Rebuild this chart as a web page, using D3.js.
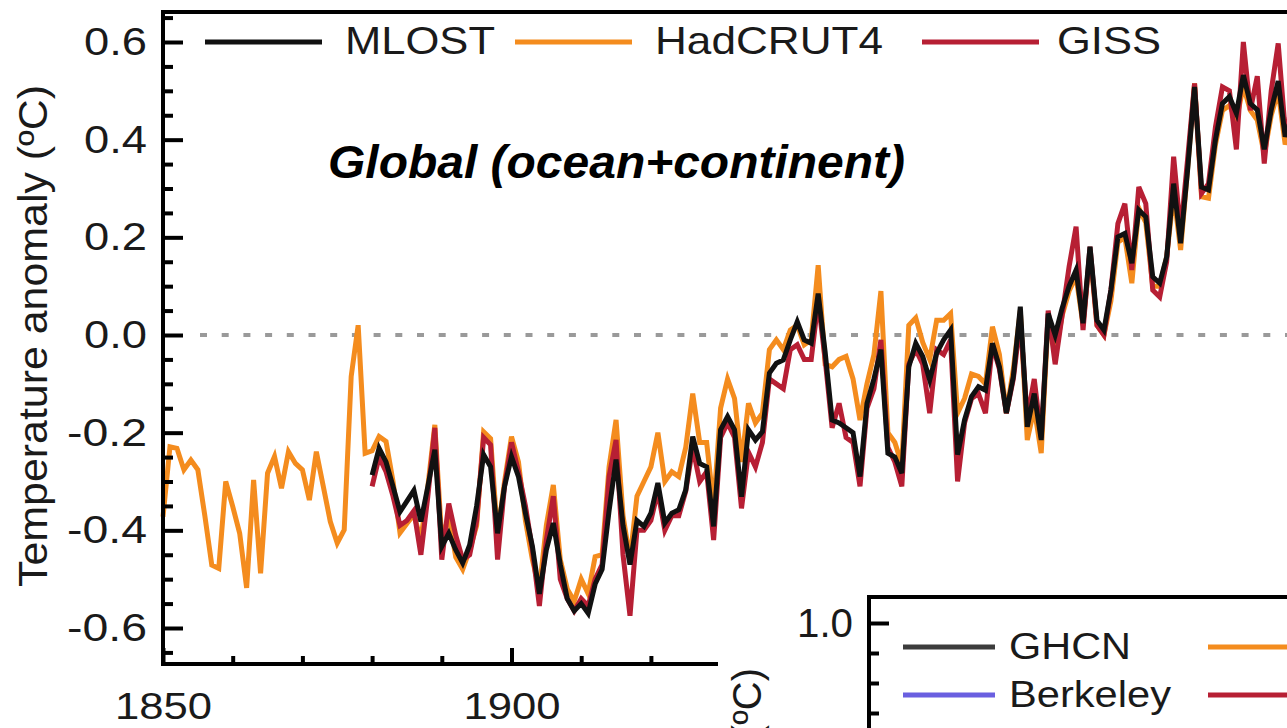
<!DOCTYPE html>
<html>
<head>
<meta charset="utf-8">
<script src="https://cdnjs.cloudflare.com/ajax/libs/d3/7.8.5/d3.min.js"></script>
<style>
  body { margin: 0; background: #fff; }
  svg { display: block; font-family: 'Liberation Sans', Arial, sans-serif; }
</style>
</head>
<body>
<script>
// annual anomalies (ºC)
const hadStart = 1850
const hadcrut4 = [
  -0.372, -0.229, -0.232, -0.276, -0.256, -0.276, -0.37, -0.471, -0.478, -0.30,
  -0.351, -0.406, -0.518, -0.297, -0.488, -0.283, -0.249, -0.314, -0.239, -0.263,
  -0.276, -0.338, -0.239, -0.31, -0.382, -0.426, -0.399, -0.085, 0.02, -0.242,
  -0.237, -0.208, -0.218, -0.30, -0.405, -0.386, -0.368, -0.42, -0.31, -0.184,
  -0.42, -0.37, -0.455, -0.48, -0.44, -0.39, -0.198, -0.212, -0.41, -0.30,
  -0.208, -0.26, -0.38, -0.46, -0.52, -0.39, -0.307, -0.46, -0.52, -0.545,
  -0.50, -0.53, -0.454, -0.45, -0.27, -0.174, -0.37, -0.46, -0.33, -0.30,
  -0.27, -0.20, -0.30, -0.28, -0.29, -0.23, -0.12, -0.22, -0.22, -0.35,
  -0.15, -0.09, -0.13, -0.26, -0.14, -0.18, -0.16, -0.03, -0.01, -0.03,
  0.01, 0.02, -0.02, -0.01, 0.143, -0.06, -0.065, -0.05, -0.044, -0.09,
  -0.174, -0.10, -0.04, 0.09, -0.20, -0.22, -0.265, 0.02, 0.035, -0.015,
  -0.05, 0.03, 0.03, 0.044, -0.16, -0.13, -0.08, -0.085, -0.10, 0.017,
  -0.04, -0.16, -0.07, 0.05, -0.215, -0.15, -0.242, 0.035, -0.04, 0.04,
  0.09, 0.12, 0.02, 0.17, 0.02, 0.0, 0.07, 0.19, 0.20, 0.106,
  0.26, 0.23, 0.10, 0.10, 0.16, 0.29, 0.174, 0.34, 0.515, 0.283,
  0.28, 0.39, 0.46, 0.47, 0.44, 0.51, 0.46, 0.44, 0.37, 0.45,
  0.50, 0.39, 0.43
]

const mlostStart = 1880
const mlost = [
  -0.287, -0.232, -0.26, -0.31, -0.362, -0.34, -0.318, -0.382, -0.31, -0.235,
  -0.433, -0.406, -0.44, -0.467, -0.43, -0.35, -0.245, -0.27, -0.406, -0.31,
  -0.249, -0.29, -0.365, -0.433, -0.53, -0.44, -0.385, -0.47, -0.54, -0.565,
  -0.55, -0.57, -0.51, -0.48, -0.36, -0.255, -0.39, -0.47, -0.38, -0.392,
  -0.365, -0.303, -0.385, -0.365, -0.358, -0.317, -0.208, -0.263, -0.27, -0.392,
  -0.194, -0.167, -0.194, -0.331, -0.194, -0.215, -0.198, -0.078, -0.058, -0.051,
  -0.01, 0.027, -0.01, -0.017, 0.085, -0.035, -0.174, -0.18, -0.19, -0.20,
  -0.29, -0.14, -0.09, -0.03, -0.242, -0.25, -0.283, -0.065, -0.017, -0.044,
  -0.092, -0.037, -0.01, 0.01, -0.245, -0.174, -0.126, -0.106, -0.113, -0.017,
  -0.065, -0.16, -0.085, 0.058, -0.188, -0.12, -0.215, 0.044, 0.0, 0.055,
  0.10, 0.133, 0.024, 0.181, 0.03, 0.01, 0.092, 0.201, 0.208, 0.147,
  0.256, 0.242, 0.119, 0.106, 0.16, 0.31, 0.188, 0.338, 0.508, 0.303,
  0.297, 0.40, 0.474, 0.488, 0.454, 0.532, 0.474, 0.461, 0.38, 0.461,
  0.52, 0.406, 0.45
]

const gissStart = 1880
const giss = [
  -0.31, -0.25, -0.28, -0.33, -0.39, -0.38, -0.36, -0.45, -0.33, -0.19,
  -0.46, -0.345, -0.41, -0.46, -0.45, -0.38, -0.21, -0.225, -0.46, -0.31,
  -0.22, -0.28, -0.35, -0.44, -0.555, -0.42, -0.33, -0.50, -0.54, -0.565,
  -0.54, -0.555, -0.50, -0.47, -0.29, -0.215, -0.45, -0.575, -0.40, -0.40,
  -0.38, -0.32, -0.40, -0.37, -0.37, -0.32, -0.23, -0.30, -0.28, -0.42,
  -0.21, -0.18, -0.21, -0.355, -0.24, -0.27, -0.22, -0.09, -0.10, -0.11,
  -0.03, -0.02, -0.05, -0.05, 0.07, -0.05, -0.19, -0.14, -0.21, -0.22,
  -0.31, -0.15, -0.11, -0.01, -0.23, -0.26, -0.31, -0.06, -0.03, -0.06,
  -0.16, -0.03, -0.04, -0.01, -0.30, -0.18, -0.13, -0.12, -0.16, -0.02,
  -0.07, -0.16, -0.09, 0.03, -0.17, -0.09, -0.21, 0.05, -0.06, 0.04,
  0.14, 0.222, 0.01, 0.181, 0.02, 0.0, 0.092, 0.228, 0.269, 0.133,
  0.303, 0.269, 0.092, 0.078, 0.15, 0.365, 0.21, 0.36, 0.515, 0.29,
  0.31, 0.426, 0.508, 0.50, 0.38, 0.60, 0.46, 0.53, 0.351, 0.50,
  0.597, 0.42, 0.46
]

// tick values (the rest of the x axis sits under the inset)
const yTicks = [-0.6, -0.4, -0.2, 0.0, 0.2, 0.4, 0.6]
const yMinor = [-0.65, -0.55, -0.5, -0.45, -0.35, -0.3, -0.25, -0.15, -0.1, -0.05,
  0.05, 0.1, 0.15, 0.25, 0.3, 0.35, 0.45, 0.5, 0.55, 0.65]
const xTicks = [1850, 1900]
const xMinor = [1860, 1870, 1880, 1890, 1910, 1920]

// legend names
const mainNames = ['MLOST', 'HadCRUT4', 'GISS']
const insetNames = ['GHCN', 'Berkeley']
const insetTicks = [1.0]
const insetMinor = [0.7, 0.8, 0.9]

const colBlack = '#111'
const colOrange = '#f48c1e'
const colRed = '#b71f34'
const colGrey = '#3c3c3c'
const colBlue = '#6a5fe0'

const w = 1287
const h = 728
const plotLeft = 163
const plotTop = 12
const plotBottom = 664

const svg = d3.select('body')
    .append('svg')
    .attr('width', w)
    .attr('height', h)

// scales
const x = d3.scaleLinear()
    .domain([1850, 2012])
    .range([plotLeft, plotLeft + 162 * 6.97])

const y = d3.scaleLinear()
    .domain([-0.6, 0.6])
    .range([628, 42])

const fmt1 = d => d.toFixed(1)

// zero line
svg.append('line')
    .attr('x1', 200)
    .attr('x2', w)
    .attr('y1', y(0))
    .attr('y2', y(0))
    .style('stroke', '#9a9a9a')
    .style('stroke-width', 4)
    .style('stroke-dasharray', '7,14.7')

// data lines
const line = d3.line()
    .x(d => x(d[0]))
    .y(d => y(d[1]))

const pts = (start, vals) => vals.map((v, i) => [start + i, v])

const series = [
    { vals: pts(hadStart, hadcrut4), color: colOrange },
    { vals: pts(gissStart, giss), color: colRed },
    { vals: pts(mlostStart, mlost), color: colBlack }
]

svg.selectAll('path.series')
    .data(series)
    .enter()
    .append('path')
    .attr('class', 'series')
    .attr('d', d => line(d.vals))
    .style('fill', 'none')
    .style('stroke', d => d.color)
    .style('stroke-width', 5)

// spines
svg.append('line')
    .attr('x1', plotLeft).attr('x2', plotLeft)
    .attr('y1', plotTop - 2).attr('y2', plotBottom + 2)
    .style('stroke', '#000').style('stroke-width', 4)
svg.append('line')
    .attr('x1', plotLeft - 2).attr('x2', w)
    .attr('y1', plotTop).attr('y2', plotTop)
    .style('stroke', '#000').style('stroke-width', 4)
svg.append('line')
    .attr('x1', plotLeft - 2).attr('x2', w)
    .attr('y1', plotBottom).attr('y2', plotBottom)
    .style('stroke', '#000').style('stroke-width', 4)

// y axis, ticks pointing inward
const yAxis = d3.axisLeft(y)
    .tickValues(yTicks)
    .tickSizeInner(-20)
    .tickSizeOuter(0)
    .tickPadding(16)
    .tickFormat(fmt1)

const gy = svg.append('g')
    .attr('transform', `translate(${plotLeft},0)`)
    .call(yAxis)

const yMinorAxis = d3.axisLeft(y)
    .tickValues(yMinor)
    .tickSizeInner(-10)
    .tickSizeOuter(0)
    .tickFormat('')

const gyMinor = svg.append('g')
    .attr('transform', `translate(${plotLeft},0)`)
    .call(yMinorAxis)

// x axis
const xAxis = d3.axisBottom(x)
    .tickValues(xTicks)
    .tickSizeInner(-16)
    .tickSizeOuter(0)
    .tickPadding(29)
    .tickFormat(d3.format('d'))

const gx = svg.append('g')
    .attr('transform', `translate(0,${plotBottom})`)
    .call(xAxis)

const xMinorAxis = d3.axisBottom(x)
    .tickValues(xMinor)
    .tickSizeInner(-8)
    .tickSizeOuter(0)
    .tickFormat('')

const gxMinor = svg.append('g')
    .attr('transform', `translate(0,${plotBottom})`)
    .call(xMinorAxis)

for (const g of [gy, gyMinor, gx, gxMinor]) {
    g.select('.domain').remove()
    g.selectAll('line').style('stroke', '#000').style('stroke-width', 4)
}

gy.selectAll('text')
    .style('font-size', '39px')
    .style('fill', '#1a1a1a')
    .attr('textLength', d => d < 0 ? 80 : 63)
    .attr('lengthAdjust', 'spacingAndGlyphs')

gx.selectAll('text')
    .style('font-size', '37px')
    .style('fill', '#1a1a1a')
    .attr('textLength', 97)
    .attr('lengthAdjust', 'spacingAndGlyphs')

// y axis label
svg.append('text')
    .attr('transform', 'translate(47,336) rotate(-90)')
    .attr('text-anchor', 'middle')
    .attr('textLength', 502)
    .attr('lengthAdjust', 'spacingAndGlyphs')
    .style('font-size', '40px')
    .style('fill', '#1a1a1a')
    .text('Temperature anomaly (ºC)')

// title
svg.append('text')
    .attr('x', 328)
    .attr('y', 178)
    .attr('textLength', 577)
    .attr('lengthAdjust', 'spacingAndGlyphs')
    .style('font-size', '46px')
    .style('font-weight', 'bold')
    .style('font-style', 'italic')
    .text('Global (ocean+continent)')

// top legend
const legendLineX = [205, 515, 922]
const legendTextX = [345, 655, 1057]
const legendTextW = [150, 228, 104]
const legendCols = [colBlack, colOrange, colRed]

mainNames.forEach((name, i) => {
    svg.append('line')
        .attr('x1', legendLineX[i])
        .attr('x2', legendLineX[i] + 117)
        .attr('y1', 42)
        .attr('y2', 42)
        .style('stroke', legendCols[i])
        .style('stroke-width', 5)
    svg.append('text')
        .attr('x', legendTextX[i])
        .attr('y', 54)
        .attr('textLength', legendTextW[i])
        .attr('lengthAdjust', 'spacingAndGlyphs')
        .style('font-size', '39px')
        .style('fill', '#1a1a1a')
        .text(name)
})

// inset panel (land only), mostly cut off at the frame edge
const inLeft = 869
const inTop = 597

svg.append('rect')
    .attr('x', 718)
    .attr('y', 586)
    .attr('width', w - 718)
    .attr('height', h - 586)
    .style('fill', '#fff')

const yIn = d3.scaleLinear()
    .domain([0.7, 1.0])
    .range([713, 623])

svg.append('line')
    .attr('x1', inLeft).attr('x2', inLeft)
    .attr('y1', inTop - 2).attr('y2', h)
    .style('stroke', '#000').style('stroke-width', 4)
svg.append('line')
    .attr('x1', inLeft - 2).attr('x2', w)
    .attr('y1', inTop).attr('y2', inTop)
    .style('stroke', '#000').style('stroke-width', 4)

const gIn = svg.append('g')
    .attr('transform', `translate(${inLeft},0)`)
    .call(d3.axisLeft(yIn).tickValues(insetTicks).tickSizeInner(-20).tickSizeOuter(0)
        .tickPadding(16).tickFormat(fmt1))
const gInMinor = svg.append('g')
    .attr('transform', `translate(${inLeft},0)`)
    .call(d3.axisLeft(yIn).tickValues(insetMinor).tickSizeInner(-10).tickSizeOuter(0)
        .tickFormat(''))

for (const g of [gIn, gInMinor]) {
    g.select('.domain').remove()
    g.selectAll('line').style('stroke', '#000').style('stroke-width', 4)
}
gIn.selectAll('text')
    .style('font-size', '41px')
    .style('fill', '#1a1a1a')
    .attr('textLength', 56)
    .attr('lengthAdjust', 'spacingAndGlyphs')

// inset y label (only its end is visible)
svg.append('text')
    .attr('transform', 'translate(761,668) rotate(-90)')
    .attr('text-anchor', 'end')
    .style('font-size', '40px')
    .style('fill', '#1a1a1a')
    .text('Temperature anomaly (ºC)')

// inset legend
const insetRowY = [647, 695]
const insetCols = [colGrey, colBlue]
const insetTextW = [122, 162]
const insetRightCols = [colOrange, colRed]

insetNames.forEach((name, i) => {
    svg.append('line')
        .attr('x1', 903).attr('x2', 995)
        .attr('y1', insetRowY[i]).attr('y2', insetRowY[i])
        .style('stroke', insetCols[i])
        .style('stroke-width', 5)
    svg.append('text')
        .attr('x', 1009)
        .attr('y', insetRowY[i] + 12)
        .attr('textLength', insetTextW[i])
        .attr('lengthAdjust', 'spacingAndGlyphs')
        .style('font-size', '37px')
        .style('fill', '#1a1a1a')
        .text(name)
    svg.append('line')
        .attr('x1', 1208).attr('x2', w)
        .attr('y1', insetRowY[i]).attr('y2', insetRowY[i])
        .style('stroke', insetRightCols[i])
        .style('stroke-width', 5)
})
</script>
</body>
</html>
